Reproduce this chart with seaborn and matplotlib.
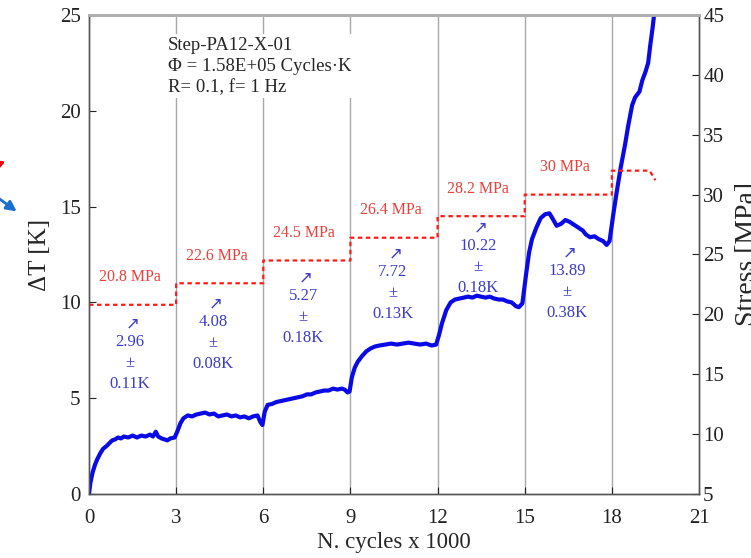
import matplotlib
matplotlib.use("Agg")
import matplotlib.pyplot as plt
from matplotlib.patches import FancyArrowPatch
import seaborn as sns
import pandas as pd

# Temperature rise of the specimen, cycles in thousands vs. delta T [K]
cycles_k = [0.00, 0.05, 0.12, 0.20, 0.28, 0.38, 0.48, 0.60, 0.70, 0.80, 0.90, 1.00,
            1.10, 1.20, 1.35, 1.50, 1.65, 1.80, 1.95, 2.10, 2.20, 2.30, 2.38, 2.50,
            2.60, 2.70, 2.80, 2.95, 3.05, 3.15, 3.25, 3.40, 3.55, 3.70, 3.85, 4.00,
            4.15, 4.30, 4.45, 4.60, 4.75, 4.90, 5.05, 5.20, 5.35, 5.50, 5.65, 5.80,
            5.90, 5.97, 6.05, 6.15, 6.30, 6.45, 6.60, 6.75, 6.90, 7.05, 7.20, 7.35,
            7.50, 7.65, 7.80, 7.95, 8.10, 8.25, 8.40, 8.55, 8.70, 8.80, 8.90, 8.97,
            9.05, 9.15, 9.25, 9.40, 9.55, 9.70, 9.85, 10.0, 10.2, 10.4, 10.6, 10.8,
            11.0, 11.2, 11.4, 11.6, 11.8, 11.95, 12.05, 12.15, 12.30, 12.45, 12.60,
            12.75, 12.90, 13.05, 13.20, 13.35, 13.50, 13.65, 13.80, 13.95, 14.10,
            14.25, 14.40, 14.55, 14.70, 14.80, 14.92, 15.05, 15.15, 15.25, 15.40,
            15.55, 15.70, 15.85, 15.95, 16.10, 16.25, 16.40, 16.55, 16.70, 16.85,
            17.00, 17.10, 17.25, 17.40, 17.55, 17.70, 17.82, 17.92, 18.05, 18.15,
            18.30, 18.45, 18.56, 18.70, 18.80, 18.95, 19.05, 19.15, 19.25, 19.32,
            19.40, 19.50]
delta_t = [0.0, 0.6, 1.1, 1.5, 1.8, 2.1, 2.35, 2.5, 2.65, 2.8, 2.85, 2.95,
           2.9, 3.0, 2.95, 3.05, 2.95, 3.05, 3.0, 3.1, 3.0, 3.25, 3.0, 2.9,
           2.85, 2.8, 2.9, 2.95, 3.3, 3.7, 3.95, 4.1, 4.05, 4.15, 4.2, 4.25,
           4.15, 4.2, 4.05, 4.1, 4.15, 4.05, 4.1, 4.0, 4.05, 3.95, 4.05, 4.1,
           3.75, 3.6, 4.3, 4.65, 4.7, 4.8, 4.85, 4.9, 4.95, 5.0, 5.05, 5.1,
           5.2, 5.2, 5.3, 5.35, 5.4, 5.4, 5.5, 5.45, 5.5, 5.45, 5.3, 5.35,
           6.1, 6.6, 6.9, 7.2, 7.45, 7.6, 7.7, 7.75, 7.8, 7.85, 7.8, 7.85,
           7.9, 7.85, 7.8, 7.85, 7.75, 7.8, 8.3, 8.9, 9.6, 10.0, 10.15,
           10.2, 10.25, 10.3, 10.25, 10.35, 10.3, 10.25, 10.3, 10.2, 10.15,
           10.15, 10.05, 10.0, 9.8, 9.75, 9.95, 11.5, 12.6, 13.3, 13.9,
           14.4, 14.6, 14.65, 14.4, 14.0, 14.1, 14.3, 14.2, 14.05, 13.9,
           13.75, 13.55, 13.4, 13.45, 13.3, 13.2, 13.0, 13.2, 14.6, 15.6,
           17.0, 18.2, 19.2, 20.3, 20.7, 21.0, 21.6, 22.0, 22.5, 23.4,
           24.3, 25.6]

# Applied stress steps (start of each block in thousands of cycles)
step_start = [0, 3, 6, 9, 12, 15, 18]
step_stress = [20.8, 22.6, 24.5, 26.4, 28.2, 30.0, 32.0]
step_labels = ["20.8 MPa", "22.6 MPa", "24.5 MPa", "26.4 MPa", "28.2 MPa", "30 MPa"]
last_step_x = [19.3, 19.45, 19.5]
last_step_y = [31.9, 31.4, 31.2]

# Stabilised temperature rise per block
dt_mean = ["2.96", "4.08", "5.27", "7.72", "10.22", "13.89"]
dt_err = ["0.11K", "0.08K", "0.18K", "0.13K", "0.18K", "0.38K"]
dt_text_x = [1.41, 4.27, 7.37, 10.46, 13.39, 16.45]
dt_text_y = [6.84, 7.88, 9.24, 10.49, 11.85, 10.54]

block_edges = [3, 6, 9, 12, 15, 18]

sns.set_style("ticks")
plt.rcParams["font.family"] = ["Liberation Serif", "DejaVu Sans"]
plt.rcParams["mathtext.fontset"] = "stix"

fig = plt.figure(figsize=(7.51, 5.58), dpi=100)
ax = fig.add_axes([89 / 751, 64 / 558, 610 / 751, 479 / 558])
ax2 = ax.twinx()

# block separators
for xe in block_edges:
    ax.axvline(xe, color="#a8a8a8", lw=1.0, zorder=0)

temp_df = pd.DataFrame({"cycles": cycles_k, "dT": delta_t})
sns.lineplot(data=temp_df, x="cycles", y="dT", ax=ax, sort=False, estimator=None,
             color="#0a0ae6", lw=3.0, zorder=4)

# stress step profile
sx, sy = [], []
for i, (x0, s) in enumerate(zip(step_start, step_stress)):
    x1 = step_start[i + 1] if i + 1 < len(step_start) else last_step_x[0]
    sx += [x0, x1]
    sy += [s, s]
sx += last_step_x[1:]
sy += last_step_y[1:]
stress_df = pd.DataFrame({"cycles": sx, "stress": sy})
sns.lineplot(data=stress_df, x="cycles", y="stress", ax=ax2, sort=False,
             estimator=None, color="#ff1a1a", lw=1.6)
ax2.lines[0].set_linestyle((0, (2.0, 1.6)))

for x0, s, lab in zip(step_start, step_stress, step_labels):
    ax2.text(x0 + 1.4, s + 2.3, lab, color="#e8403a", fontsize=11.5,
             ha="center", va="center")

for x, y, m, e in zip(dt_text_x, dt_text_y, dt_mean, dt_err):
    ax.text(x, y, f"{m}\n±\n{e}", color="#3c3cc8", fontsize=12, ha="center",
            va="center", linespacing=1.42, zorder=1)
    ax.text(x + 0.1, y + 2.05, "↗", color="#3c3cc8", fontsize=12, ha="center",
            va="center", zorder=1, family=["DejaVu Sans"])

ax.text(0.1295, 0.955,
        "Step-PA12-X-01\nΦ = 1.58E+05 Cycles·K\nR= 0.1, f= 1 Hz",
        transform=ax.transAxes, fontsize=13.5, ha="left", va="top",
        linespacing=1.33, zorder=3,
        bbox=dict(facecolor="white", edgecolor="none", pad=1.5))

ax.set_xlim(0, 21)
ax.set_ylim(0, 25)
ax2.set_ylim(5, 45)
ax.set_xticks(range(0, 22, 3))
ax.set_yticks(range(0, 26, 5))
ax2.set_yticks(range(5, 46, 5))
ax.set_xlabel("N. cycles x 1000", fontsize=16.5, labelpad=3)
ax.set_ylabel("ΔT [K]", fontsize=18, labelpad=6)
ax2.set_ylabel("Stress [MPa]", fontsize=20, labelpad=8)

for a in (ax, ax2):
    a.tick_params(direction="in", length=5, width=0.8, labelsize=15,
                  colors="#222222")
    for side in ("left", "right", "bottom"):
        a.spines[side].set_visible(True)
        a.spines[side].set_color("#555555")
        a.spines[side].set_linewidth(1.0)
    a.spines["top"].set_visible(True)
    a.spines["top"].set_color("#b0b0b0")
    a.spines["top"].set_linewidth(2.0)
ax.tick_params(axis="y", pad=6)
ax.tick_params(axis="x", pad=11)
ax2.tick_params(axis="y", pad=3)

# arrow marks at the left margin
fig.add_artist(FancyArrowPatch((-18 / 751, 1 - 172 / 558), (8 / 751, 1 - 160 / 558),
                               transform=fig.transFigure, color="#ff0000",
                               arrowstyle="-|>", mutation_scale=15, lw=2))
fig.add_artist(FancyArrowPatch((-6 / 751, 1 - 195 / 558), (19 / 751, 1 - 213 / 558),
                               transform=fig.transFigure, color="#1a6fd0",
                               arrowstyle="-|>", mutation_scale=15, lw=2))

fig.savefig("out.png", dpi=100)
